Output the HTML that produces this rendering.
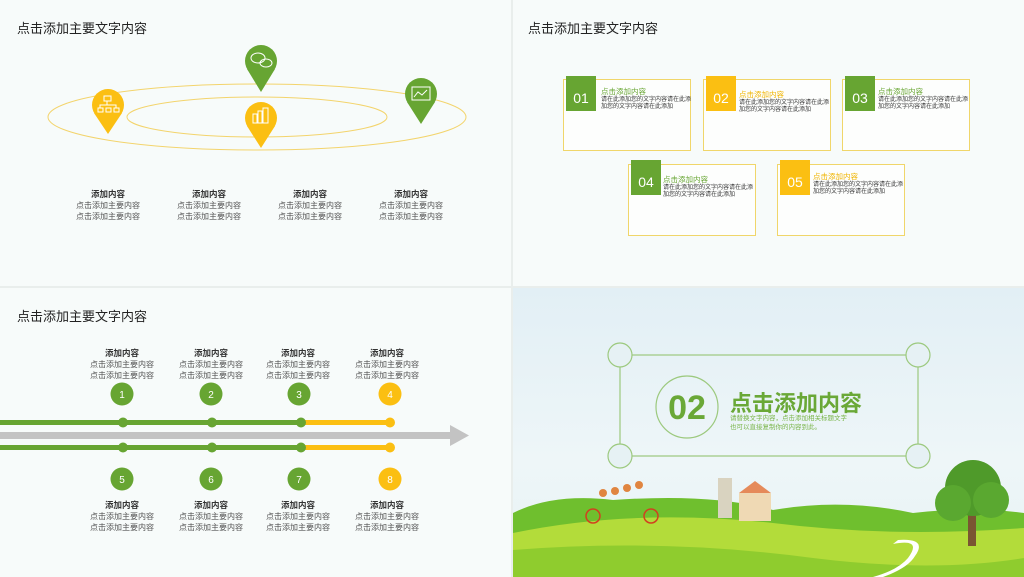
<!DOCTYPE html>
<html><head><meta charset="utf-8"><style>
body{margin:0;width:1024px;height:577px;background:#e9eeec;overflow:hidden;font-family:"Liberation Sans","Noto Sans CJK SC",sans-serif;position:relative}
.p{position:absolute;background:#f7fbfa;overflow:hidden}
.t{position:absolute;white-space:nowrap;color:#222}
.c{position:absolute;text-align:center;width:100px;font-size:8px;color:#555;line-height:11px}
.c b{color:#333;font-size:8.5px}
.box{position:absolute;border:1px solid #f0d66a;background:#fdfefd}
.sq{position:absolute;width:30px;height:35px;color:#fff;font-size:14px;text-align:center;line-height:44px}
.bt{position:absolute;font-size:6px;line-height:7.5px;color:#333;white-space:nowrap}
.bt b{font-size:7.5px;font-weight:normal;display:block;margin-bottom:1px}
</style></head><body>
<!-- Panel 1 -->
<div class="p" style="left:0;top:0;width:511px;height:286px">
<div class="t" style="left:17px;top:18px;font-size:13px">点击添加主要文字内容</div>
<svg width="511" height="286" style="position:absolute;left:0;top:0">
<ellipse cx="257" cy="117" rx="209" ry="33" fill="none" stroke="#f3d46c" stroke-width="1"/>
<ellipse cx="257" cy="117" rx="130" ry="20" fill="none" stroke="#f3d46c" stroke-width="1"/>
<g fill="#fbbf12"><circle cx="108" cy="105" r="16"/><path d="M94 113 L108 134 L122 113Z"/>
<circle cx="261" cy="118" r="16"/><path d="M247 126 L261 148 L275 126Z"/></g>
<g fill="#67a532"><circle cx="261" cy="61" r="16"/><path d="M247 69 L261 92 L275 69Z"/>
<circle cx="421" cy="94" r="16"/><path d="M407 102 L421 124 L435 102Z"/></g>
<g fill="none" stroke="#fff" stroke-width="1">
<rect x="104" y="96" width="7" height="5"/><rect x="98" y="108" width="5" height="4"/><rect x="106" y="108" width="5" height="4"/><rect x="114" y="108" width="5" height="4"/><path d="M107 101v4M100 108v-3h16v3"/>
<rect x="253" y="114" width="4" height="9"/><rect x="258" y="111" width="4" height="12"/><rect x="263" y="108" width="5" height="15"/>
<ellipse cx="258" cy="58" rx="7" ry="5"/><ellipse cx="266" cy="63" rx="6" ry="4"/>
<rect x="412" y="87" width="18" height="13"/><path d="M414 97l4-5 4 3 5-5"/></g>
</svg>
<div class="c" style="left:58px;top:189px"><b>添加内容</b><br>点击添加主要内容<br>点击添加主要内容</div>
<div class="c" style="left:159px;top:189px"><b>添加内容</b><br>点击添加主要内容<br>点击添加主要内容</div>
<div class="c" style="left:260px;top:189px"><b>添加内容</b><br>点击添加主要内容<br>点击添加主要内容</div>
<div class="c" style="left:361px;top:189px"><b>添加内容</b><br>点击添加主要内容<br>点击添加主要内容</div>
</div>
<!-- Panel 2 -->
<div class="p" style="left:513px;top:0;width:511px;height:286px">
<div class="t" style="left:15px;top:18px;font-size:13px">点击添加主要文字内容</div>
<div class="box" style="left:50px;top:79px;width:126px;height:70px"></div>
<div class="sq" style="left:53px;top:76px;background:#67a532">01</div>
<div class="bt" style="left:88px;top:88px"><b style="color:#67a532">点击添加内容</b>请在此添加您的文字内容请在此添<br>加您的文字内容请在此添加</div>
<div class="box" style="left:190px;top:79px;width:126px;height:70px"></div>
<div class="sq" style="left:193px;top:76px;background:#fbbf12">02</div>
<div class="bt" style="left:226px;top:91px"><b style="color:#f0b400">点击添加内容</b>请在此添加您的文字内容请在此添<br>加您的文字内容请在此添加</div>
<div class="box" style="left:329px;top:79px;width:126px;height:70px"></div>
<div class="sq" style="left:332px;top:76px;background:#67a532">03</div>
<div class="bt" style="left:365px;top:88px"><b style="color:#67a532">点击添加内容</b>请在此添加您的文字内容请在此添<br>加您的文字内容请在此添加</div>
<div class="box" style="left:115px;top:164px;width:126px;height:70px"></div>
<div class="sq" style="left:118px;top:160px;background:#67a532">04</div>
<div class="bt" style="left:150px;top:176px"><b style="color:#67a532">点击添加内容</b>请在此添加您的文字内容请在此添<br>加您的文字内容请在此添加</div>
<div class="box" style="left:264px;top:164px;width:126px;height:70px"></div>
<div class="sq" style="left:267px;top:160px;background:#fbbf12">05</div>
<div class="bt" style="left:300px;top:173px"><b style="color:#f0b400">点击添加内容</b>请在此添加您的文字内容请在此添<br>加您的文字内容请在此添加</div>
</div>
<!-- Panel 3 -->
<div class="p" style="left:0;top:288px;width:511px;height:289px">
<div class="t" style="left:17px;top:18px;font-size:13px">点击添加主要文字内容</div>
<svg width="511" height="289" style="position:absolute;left:0;top:0">
<rect x="0" y="144" width="452" height="7" fill="#c3c3c3"/><path d="M450 137 L469 147.5 L450 158Z" fill="#c3c3c3"/>
<rect x="0" y="132" width="302" height="5" fill="#67a532"/><rect x="300" y="132" width="90" height="5" fill="#fbbf12"/>
<rect x="0" y="157" width="302" height="5" fill="#67a532"/><rect x="300" y="157" width="90" height="5" fill="#fbbf12"/>
<g fill="#67a532"><circle cx="123" cy="134.5" r="5"/><circle cx="212" cy="134.5" r="5"/><circle cx="301" cy="134.5" r="5"/>
<circle cx="123" cy="159.5" r="5"/><circle cx="212" cy="159.5" r="5"/><circle cx="301" cy="159.5" r="5"/>
<circle cx="122" cy="106" r="11.5"/><circle cx="211" cy="106" r="11.5"/><circle cx="299" cy="106" r="11.5"/>
<circle cx="122" cy="191" r="11.5"/><circle cx="211" cy="191" r="11.5"/><circle cx="299" cy="191" r="11.5"/></g>
<g fill="#fbbf12"><circle cx="390" cy="134.5" r="5"/><circle cx="390" cy="159.5" r="5"/><circle cx="390" cy="106" r="11.5"/><circle cx="390" cy="191" r="11.5"/></g>
<g fill="#fff" font-size="10" text-anchor="middle" font-family="Liberation Sans,sans-serif">
<text x="122" y="110">1</text><text x="211" y="110">2</text><text x="299" y="110">3</text><text x="390" y="110">4</text>
<text x="122" y="195">5</text><text x="211" y="195">6</text><text x="299" y="195">7</text><text x="390" y="195">8</text></g>
</svg>
<div class="c" style="left:72px;top:60px"><b>添加内容</b><br>点击添加主要内容<br>点击添加主要内容</div>
<div class="c" style="left:161px;top:60px"><b>添加内容</b><br>点击添加主要内容<br>点击添加主要内容</div>
<div class="c" style="left:248px;top:60px"><b>添加内容</b><br>点击添加主要内容<br>点击添加主要内容</div>
<div class="c" style="left:337px;top:60px"><b>添加内容</b><br>点击添加主要内容<br>点击添加主要内容</div>
<div class="c" style="left:72px;top:212px"><b>添加内容</b><br>点击添加主要内容<br>点击添加主要内容</div>
<div class="c" style="left:161px;top:212px"><b>添加内容</b><br>点击添加主要内容<br>点击添加主要内容</div>
<div class="c" style="left:248px;top:212px"><b>添加内容</b><br>点击添加主要内容<br>点击添加主要内容</div>
<div class="c" style="left:337px;top:212px"><b>添加内容</b><br>点击添加主要内容<br>点击添加主要内容</div>
</div>
<!-- Panel 4 -->
<div class="p" style="left:513px;top:288px;width:511px;height:289px;background:linear-gradient(#e2eff5,#eef6f8 60%,#e6f2f4)">
<svg width="511" height="289" style="position:absolute;left:0;top:0">
<g fill="none" stroke="#9cc97e" stroke-width="1.2">
<rect x="107" y="67" width="298" height="101"/>
<circle cx="107" cy="67" r="12" fill="#e6f1f4"/><circle cx="405" cy="67" r="12" fill="#e6f1f4"/>
<circle cx="107" cy="168" r="12" fill="#e6f1f4"/><circle cx="405" cy="168" r="12" fill="#e6f1f4"/>
<circle cx="174" cy="119" r="31"/></g>
<text x="174" y="131" text-anchor="middle" font-size="34" font-weight="bold" fill="#6aa837" font-family="Liberation Sans,sans-serif">02</text>
<path d="M0 225 Q40 205 100 212 Q200 205 260 222 Q330 210 400 225 Q460 218 511 225 L511 289 L0 289Z" fill="#6fbf2e"/>
<path d="M0 245 Q120 220 260 235 Q380 250 511 240 L511 289 L0 289Z" fill="#b3dc3a"/>
<path d="M0 262 Q150 250 300 270 Q420 285 511 270 L511 289 L0 289Z" fill="#8fcc2e"/>
<rect x="205" y="190" width="14" height="40" fill="#d9d3c0"/><rect x="226" y="205" width="32" height="28" fill="#efd9b4"/><path d="M226 205 L242 193 L258 205Z" fill="#e58a5a"/>
<path d="M380 256 Q410 250 395 270 Q385 282 360 289 L370 289 Q395 280 402 268 Q415 250 385 252Z" fill="#fff"/>
<rect x="455" y="218" width="8" height="40" fill="#7a5532"/>
<circle cx="460" cy="200" r="28" fill="#4f9a2a"/><circle cx="440" cy="215" r="18" fill="#5aa830"/><circle cx="478" cy="212" r="18" fill="#5aa830"/>
<g fill="none" stroke="#d2401f" stroke-width="1.5"><circle cx="80" cy="228" r="7"/><circle cx="138" cy="228" r="7"/></g>
<g fill="#e08540"><circle cx="90" cy="205" r="4"/><circle cx="102" cy="203" r="4"/><circle cx="114" cy="200" r="4"/><circle cx="126" cy="197" r="4"/></g>
</svg>
<div class="t" style="left:217px;top:98px;font-size:22px;font-weight:bold;color:#6aa837">点击添加内容</div>
<div class="t" style="left:217px;top:126px;font-size:6.5px;line-height:9px;color:#7ab54a">请替换文字内容，点击添加相关标题文字<br>也可以直接复制你的内容到此。</div>
</div>
</body></html>
